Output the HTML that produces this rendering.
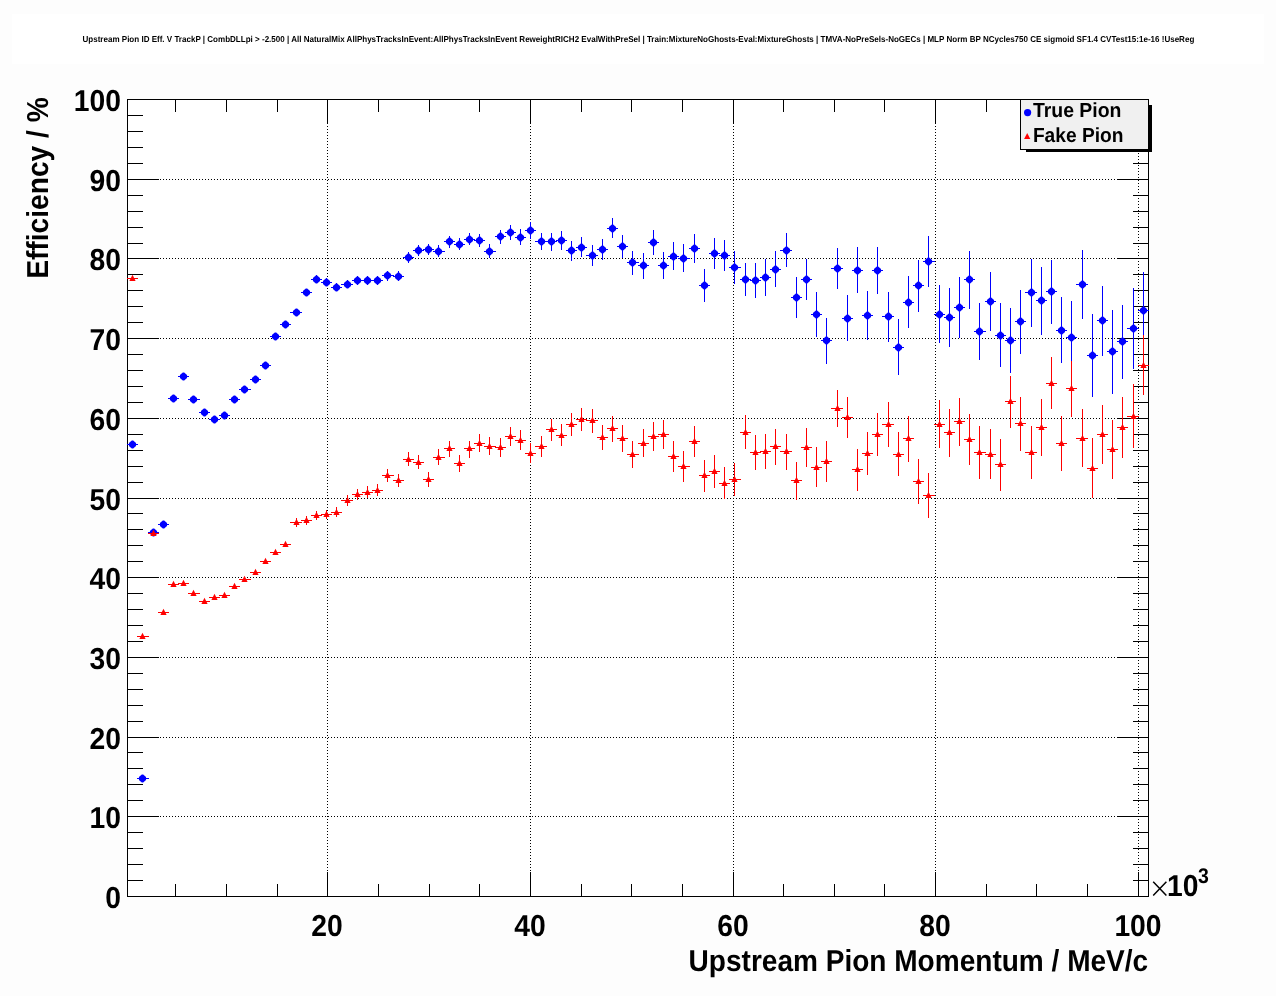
<!DOCTYPE html>
<html><head><meta charset="utf-8"><title>Upstream Pion ID Eff. V TrackP</title>
<style>html,body{margin:0;padding:0;background:#fdfdfd;}body{width:1276px;height:996px;overflow:hidden;}svg{display:block;will-change:transform;}text{font-family:"Liberation Sans", sans-serif;font-weight:bold;fill:#000;text-rendering:geometricPrecision;}</style>
</head><body>
<svg width="1276" height="996" viewBox="0 0 1276 996">
<rect x="0" y="0" width="1276" height="996" fill="#fdfdfd"/>
<rect x="127" y="99" width="1022" height="798" fill="#ffffff"/>
<rect x="12" y="14" width="1252" height="50" fill="#ffffff"/>
<text x="82.5" y="42" font-size="8.6" textLength="1111.8" lengthAdjust="spacingAndGlyphs">Upstream Pion ID Eff. V TrackP | CombDLLpi &gt; -2.500 | All NaturalMix AllPhysTracksInEvent:AllPhysTracksInEvent ReweightRICH2 EvalWithPreSel | Train:MixtureNoGhosts-Eval:MixtureGhosts | TMVA-NoPreSels-NoGECs | MLP Norm BP NCycles750 CE sigmoid SF1.4 CVTest15:1e-16 !UseReg</text>
<g shape-rendering="crispEdges" stroke="#000" stroke-width="1" fill="none">
<g stroke-dasharray="1 2">
<line x1="127" y1="816.5" x2="1149" y2="816.5"/>
<line x1="127" y1="737.5" x2="1149" y2="737.5"/>
<line x1="127" y1="657.5" x2="1149" y2="657.5"/>
<line x1="127" y1="577.5" x2="1149" y2="577.5"/>
<line x1="127" y1="498.5" x2="1149" y2="498.5"/>
<line x1="127" y1="418.5" x2="1149" y2="418.5"/>
<line x1="127" y1="338.5" x2="1149" y2="338.5"/>
<line x1="127" y1="258.5" x2="1149" y2="258.5"/>
<line x1="127" y1="179.5" x2="1149" y2="179.5"/>
<line x1="327.5" y1="99" x2="327.5" y2="897"/>
<line x1="530.5" y1="99" x2="530.5" y2="897"/>
<line x1="733.5" y1="99" x2="733.5" y2="897"/>
<line x1="935.5" y1="99" x2="935.5" y2="897"/>
<line x1="1138.5" y1="99" x2="1138.5" y2="897"/>
</g>
<rect x="127.5" y="99.5" width="1021" height="797"/>
<line x1="128" y1="896.5" x2="159" y2="896.5"/>
<line x1="1117" y1="896.5" x2="1148" y2="896.5"/>
<line x1="128" y1="880.5" x2="143" y2="880.5"/>
<line x1="1133" y1="880.5" x2="1148" y2="880.5"/>
<line x1="128" y1="864.5" x2="143" y2="864.5"/>
<line x1="1133" y1="864.5" x2="1148" y2="864.5"/>
<line x1="128" y1="848.5" x2="143" y2="848.5"/>
<line x1="1133" y1="848.5" x2="1148" y2="848.5"/>
<line x1="128" y1="832.5" x2="143" y2="832.5"/>
<line x1="1133" y1="832.5" x2="1148" y2="832.5"/>
<line x1="128" y1="816.5" x2="159" y2="816.5"/>
<line x1="1117" y1="816.5" x2="1148" y2="816.5"/>
<line x1="128" y1="800.5" x2="143" y2="800.5"/>
<line x1="1133" y1="800.5" x2="1148" y2="800.5"/>
<line x1="128" y1="784.5" x2="143" y2="784.5"/>
<line x1="1133" y1="784.5" x2="1148" y2="784.5"/>
<line x1="128" y1="768.5" x2="143" y2="768.5"/>
<line x1="1133" y1="768.5" x2="1148" y2="768.5"/>
<line x1="128" y1="752.5" x2="143" y2="752.5"/>
<line x1="1133" y1="752.5" x2="1148" y2="752.5"/>
<line x1="128" y1="737.5" x2="159" y2="737.5"/>
<line x1="1117" y1="737.5" x2="1148" y2="737.5"/>
<line x1="128" y1="721.5" x2="143" y2="721.5"/>
<line x1="1133" y1="721.5" x2="1148" y2="721.5"/>
<line x1="128" y1="705.5" x2="143" y2="705.5"/>
<line x1="1133" y1="705.5" x2="1148" y2="705.5"/>
<line x1="128" y1="689.5" x2="143" y2="689.5"/>
<line x1="1133" y1="689.5" x2="1148" y2="689.5"/>
<line x1="128" y1="673.5" x2="143" y2="673.5"/>
<line x1="1133" y1="673.5" x2="1148" y2="673.5"/>
<line x1="128" y1="657.5" x2="159" y2="657.5"/>
<line x1="1117" y1="657.5" x2="1148" y2="657.5"/>
<line x1="128" y1="641.5" x2="143" y2="641.5"/>
<line x1="1133" y1="641.5" x2="1148" y2="641.5"/>
<line x1="128" y1="625.5" x2="143" y2="625.5"/>
<line x1="1133" y1="625.5" x2="1148" y2="625.5"/>
<line x1="128" y1="609.5" x2="143" y2="609.5"/>
<line x1="1133" y1="609.5" x2="1148" y2="609.5"/>
<line x1="128" y1="593.5" x2="143" y2="593.5"/>
<line x1="1133" y1="593.5" x2="1148" y2="593.5"/>
<line x1="128" y1="577.5" x2="159" y2="577.5"/>
<line x1="1117" y1="577.5" x2="1148" y2="577.5"/>
<line x1="128" y1="561.5" x2="143" y2="561.5"/>
<line x1="1133" y1="561.5" x2="1148" y2="561.5"/>
<line x1="128" y1="545.5" x2="143" y2="545.5"/>
<line x1="1133" y1="545.5" x2="1148" y2="545.5"/>
<line x1="128" y1="529.5" x2="143" y2="529.5"/>
<line x1="1133" y1="529.5" x2="1148" y2="529.5"/>
<line x1="128" y1="513.5" x2="143" y2="513.5"/>
<line x1="1133" y1="513.5" x2="1148" y2="513.5"/>
<line x1="128" y1="498.5" x2="159" y2="498.5"/>
<line x1="1117" y1="498.5" x2="1148" y2="498.5"/>
<line x1="128" y1="482.5" x2="143" y2="482.5"/>
<line x1="1133" y1="482.5" x2="1148" y2="482.5"/>
<line x1="128" y1="466.5" x2="143" y2="466.5"/>
<line x1="1133" y1="466.5" x2="1148" y2="466.5"/>
<line x1="128" y1="450.5" x2="143" y2="450.5"/>
<line x1="1133" y1="450.5" x2="1148" y2="450.5"/>
<line x1="128" y1="434.5" x2="143" y2="434.5"/>
<line x1="1133" y1="434.5" x2="1148" y2="434.5"/>
<line x1="128" y1="418.5" x2="159" y2="418.5"/>
<line x1="1117" y1="418.5" x2="1148" y2="418.5"/>
<line x1="128" y1="402.5" x2="143" y2="402.5"/>
<line x1="1133" y1="402.5" x2="1148" y2="402.5"/>
<line x1="128" y1="386.5" x2="143" y2="386.5"/>
<line x1="1133" y1="386.5" x2="1148" y2="386.5"/>
<line x1="128" y1="370.5" x2="143" y2="370.5"/>
<line x1="1133" y1="370.5" x2="1148" y2="370.5"/>
<line x1="128" y1="354.5" x2="143" y2="354.5"/>
<line x1="1133" y1="354.5" x2="1148" y2="354.5"/>
<line x1="128" y1="338.5" x2="159" y2="338.5"/>
<line x1="1117" y1="338.5" x2="1148" y2="338.5"/>
<line x1="128" y1="322.5" x2="143" y2="322.5"/>
<line x1="1133" y1="322.5" x2="1148" y2="322.5"/>
<line x1="128" y1="306.5" x2="143" y2="306.5"/>
<line x1="1133" y1="306.5" x2="1148" y2="306.5"/>
<line x1="128" y1="290.5" x2="143" y2="290.5"/>
<line x1="1133" y1="290.5" x2="1148" y2="290.5"/>
<line x1="128" y1="274.5" x2="143" y2="274.5"/>
<line x1="1133" y1="274.5" x2="1148" y2="274.5"/>
<line x1="128" y1="258.5" x2="159" y2="258.5"/>
<line x1="1117" y1="258.5" x2="1148" y2="258.5"/>
<line x1="128" y1="243.5" x2="143" y2="243.5"/>
<line x1="1133" y1="243.5" x2="1148" y2="243.5"/>
<line x1="128" y1="227.5" x2="143" y2="227.5"/>
<line x1="1133" y1="227.5" x2="1148" y2="227.5"/>
<line x1="128" y1="211.5" x2="143" y2="211.5"/>
<line x1="1133" y1="211.5" x2="1148" y2="211.5"/>
<line x1="128" y1="195.5" x2="143" y2="195.5"/>
<line x1="1133" y1="195.5" x2="1148" y2="195.5"/>
<line x1="128" y1="179.5" x2="159" y2="179.5"/>
<line x1="1117" y1="179.5" x2="1148" y2="179.5"/>
<line x1="128" y1="163.5" x2="143" y2="163.5"/>
<line x1="1133" y1="163.5" x2="1148" y2="163.5"/>
<line x1="128" y1="147.5" x2="143" y2="147.5"/>
<line x1="1133" y1="147.5" x2="1148" y2="147.5"/>
<line x1="128" y1="131.5" x2="143" y2="131.5"/>
<line x1="1133" y1="131.5" x2="1148" y2="131.5"/>
<line x1="128" y1="115.5" x2="143" y2="115.5"/>
<line x1="1133" y1="115.5" x2="1148" y2="115.5"/>
<line x1="128" y1="99.5" x2="159" y2="99.5"/>
<line x1="1117" y1="99.5" x2="1148" y2="99.5"/>
<line x1="175.5" y1="884" x2="175.5" y2="896"/>
<line x1="175.5" y1="100" x2="175.5" y2="112"/>
<line x1="226.5" y1="884" x2="226.5" y2="896"/>
<line x1="226.5" y1="100" x2="226.5" y2="112"/>
<line x1="277.5" y1="884" x2="277.5" y2="896"/>
<line x1="277.5" y1="100" x2="277.5" y2="112"/>
<line x1="327.5" y1="872" x2="327.5" y2="896"/>
<line x1="327.5" y1="100" x2="327.5" y2="124"/>
<line x1="378.5" y1="884" x2="378.5" y2="896"/>
<line x1="378.5" y1="100" x2="378.5" y2="112"/>
<line x1="429.5" y1="884" x2="429.5" y2="896"/>
<line x1="429.5" y1="100" x2="429.5" y2="112"/>
<line x1="479.5" y1="884" x2="479.5" y2="896"/>
<line x1="479.5" y1="100" x2="479.5" y2="112"/>
<line x1="530.5" y1="872" x2="530.5" y2="896"/>
<line x1="530.5" y1="100" x2="530.5" y2="124"/>
<line x1="581.5" y1="884" x2="581.5" y2="896"/>
<line x1="581.5" y1="100" x2="581.5" y2="112"/>
<line x1="631.5" y1="884" x2="631.5" y2="896"/>
<line x1="631.5" y1="100" x2="631.5" y2="112"/>
<line x1="682.5" y1="884" x2="682.5" y2="896"/>
<line x1="682.5" y1="100" x2="682.5" y2="112"/>
<line x1="733.5" y1="872" x2="733.5" y2="896"/>
<line x1="733.5" y1="100" x2="733.5" y2="124"/>
<line x1="783.5" y1="884" x2="783.5" y2="896"/>
<line x1="783.5" y1="100" x2="783.5" y2="112"/>
<line x1="834.5" y1="884" x2="834.5" y2="896"/>
<line x1="834.5" y1="100" x2="834.5" y2="112"/>
<line x1="884.5" y1="884" x2="884.5" y2="896"/>
<line x1="884.5" y1="100" x2="884.5" y2="112"/>
<line x1="935.5" y1="872" x2="935.5" y2="896"/>
<line x1="935.5" y1="100" x2="935.5" y2="124"/>
<line x1="986.5" y1="884" x2="986.5" y2="896"/>
<line x1="986.5" y1="100" x2="986.5" y2="112"/>
<line x1="1036.5" y1="884" x2="1036.5" y2="896"/>
<line x1="1036.5" y1="100" x2="1036.5" y2="112"/>
<line x1="1087.5" y1="884" x2="1087.5" y2="896"/>
<line x1="1087.5" y1="100" x2="1087.5" y2="112"/>
<line x1="1138.5" y1="872" x2="1138.5" y2="896"/>
<line x1="1138.5" y1="100" x2="1138.5" y2="124"/>
</g>
<text transform="translate(120.90,907.50) scale(0.9340,1.0000)" font-size="30.30" text-anchor="end">0</text>
<text transform="translate(120.90,827.50) scale(0.9340,1.0000)" font-size="30.30" text-anchor="end">10</text>
<text transform="translate(120.90,748.50) scale(0.9340,1.0000)" font-size="30.30" text-anchor="end">20</text>
<text transform="translate(120.90,668.50) scale(0.9340,1.0000)" font-size="30.30" text-anchor="end">30</text>
<text transform="translate(120.90,588.50) scale(0.9340,1.0000)" font-size="30.30" text-anchor="end">40</text>
<text transform="translate(120.90,509.50) scale(0.9340,1.0000)" font-size="30.30" text-anchor="end">50</text>
<text transform="translate(120.90,429.50) scale(0.9340,1.0000)" font-size="30.30" text-anchor="end">60</text>
<text transform="translate(120.90,349.50) scale(0.9340,1.0000)" font-size="30.30" text-anchor="end">70</text>
<text transform="translate(120.90,269.50) scale(0.9340,1.0000)" font-size="30.30" text-anchor="end">80</text>
<text transform="translate(120.90,190.50) scale(0.9340,1.0000)" font-size="30.30" text-anchor="end">90</text>
<text transform="translate(120.90,110.50) scale(0.9340,1.0000)" font-size="30.30" text-anchor="end">100</text>
<text transform="translate(327.00,935.70) scale(0.9340,1.0000)" font-size="30.30" text-anchor="middle">20</text>
<text transform="translate(530.00,935.70) scale(0.9340,1.0000)" font-size="30.30" text-anchor="middle">40</text>
<text transform="translate(733.00,935.70) scale(0.9340,1.0000)" font-size="30.30" text-anchor="middle">60</text>
<text transform="translate(935.00,935.70) scale(0.9340,1.0000)" font-size="30.30" text-anchor="middle">80</text>
<text transform="translate(1138.00,935.70) scale(0.9340,1.0000)" font-size="30.30" text-anchor="middle">100</text>
<text transform="translate(1148.20,971.00) scale(0.9255,1.0000)" font-size="30.30" text-anchor="end">Upstream Pion Momentum / MeV/c</text>
<text transform="translate(48.10,97.20) rotate(-90) scale(0.9300,1.0000)" font-size="30.30" text-anchor="end">Efficiency / %</text>
<path d="M1153.2 881.8 L1166.4 895.4 M1166.4 881.8 L1153.2 895.4" stroke="#000" stroke-width="1.5" fill="none"/>
<text transform="translate(1167.00,896.40) scale(0.9340,1.0000)" font-size="30.30" text-anchor="start">10</text>
<text transform="translate(1198.00,882.90) scale(0.9200,1.0000)" font-size="21.20" text-anchor="start">3</text>
<g stroke="#0000ff" fill="#0000ff" stroke-width="1" shape-rendering="crispEdges">
<line x1="127" y1="444.5" x2="138" y2="444.5"/>
<line x1="137" y1="778.5" x2="149" y2="778.5"/>
<line x1="148" y1="532.5" x2="159" y2="532.5"/>
<line x1="158" y1="524.5" x2="169" y2="524.5"/>
<line x1="168" y1="398.5" x2="179" y2="398.5"/>
<line x1="178" y1="376.5" x2="189" y2="376.5"/>
<line x1="188" y1="399.5" x2="200" y2="399.5"/>
<line x1="199" y1="412.5" x2="210" y2="412.5"/>
<line x1="209" y1="419.5" x2="220" y2="419.5"/>
<line x1="219" y1="415.5" x2="230" y2="415.5"/>
<line x1="229" y1="399.5" x2="240" y2="399.5"/>
<line x1="239" y1="389.5" x2="251" y2="389.5"/>
<line x1="250" y1="379.5" x2="261" y2="379.5"/>
<line x1="260" y1="365.5" x2="271" y2="365.5"/>
<line x1="270" y1="336.5" x2="281" y2="336.5"/>
<line x1="280" y1="324.5" x2="291" y2="324.5"/>
<line x1="290" y1="312.5" x2="302" y2="312.5"/>
<line x1="301" y1="292.5" x2="312" y2="292.5"/>
<line x1="311" y1="279.5" x2="322" y2="279.5"/>
<line x1="316.5" y1="275" x2="316.5" y2="283"/>
<line x1="321" y1="282.5" x2="332" y2="282.5"/>
<line x1="326.5" y1="278" x2="326.5" y2="286"/>
<line x1="331" y1="287.5" x2="342" y2="287.5"/>
<line x1="336.5" y1="283" x2="336.5" y2="291"/>
<line x1="341" y1="284.5" x2="353" y2="284.5"/>
<line x1="347.5" y1="280" x2="347.5" y2="288"/>
<line x1="352" y1="280.5" x2="363" y2="280.5"/>
<line x1="357.5" y1="276" x2="357.5" y2="285"/>
<line x1="362" y1="280.5" x2="373" y2="280.5"/>
<line x1="367.5" y1="276" x2="367.5" y2="285"/>
<line x1="372" y1="280.5" x2="383" y2="280.5"/>
<line x1="377.5" y1="276" x2="377.5" y2="285"/>
<line x1="382" y1="275.5" x2="394" y2="275.5"/>
<line x1="387.5" y1="271" x2="387.5" y2="281"/>
<line x1="393" y1="276.5" x2="404" y2="276.5"/>
<line x1="398.5" y1="271" x2="398.5" y2="281"/>
<line x1="403" y1="257.5" x2="414" y2="257.5"/>
<line x1="408.5" y1="252" x2="408.5" y2="263"/>
<line x1="413" y1="250.5" x2="424" y2="250.5"/>
<line x1="418.5" y1="245" x2="418.5" y2="256"/>
<line x1="423" y1="249.5" x2="434" y2="249.5"/>
<line x1="428.5" y1="244" x2="428.5" y2="255"/>
<line x1="433" y1="251.5" x2="445" y2="251.5"/>
<line x1="438.5" y1="245" x2="438.5" y2="257"/>
<line x1="444" y1="241.5" x2="455" y2="241.5"/>
<line x1="449.5" y1="236" x2="449.5" y2="248"/>
<line x1="454" y1="244.5" x2="465" y2="244.5"/>
<line x1="459.5" y1="238" x2="459.5" y2="250"/>
<line x1="464" y1="239.5" x2="475" y2="239.5"/>
<line x1="469.5" y1="233" x2="469.5" y2="245"/>
<line x1="474" y1="240.5" x2="485" y2="240.5"/>
<line x1="479.5" y1="234" x2="479.5" y2="247"/>
<line x1="484" y1="251.5" x2="496" y2="251.5"/>
<line x1="489.5" y1="244" x2="489.5" y2="258"/>
<line x1="495" y1="236.5" x2="506" y2="236.5"/>
<line x1="500.5" y1="230" x2="500.5" y2="244"/>
<line x1="505" y1="232.5" x2="516" y2="232.5"/>
<line x1="510.5" y1="225" x2="510.5" y2="240"/>
<line x1="515" y1="237.5" x2="526" y2="237.5"/>
<line x1="520.5" y1="229" x2="520.5" y2="245"/>
<line x1="525" y1="230.5" x2="536" y2="230.5"/>
<line x1="530.5" y1="222" x2="530.5" y2="239"/>
<line x1="535" y1="241.5" x2="547" y2="241.5"/>
<line x1="541.5" y1="233" x2="541.5" y2="250"/>
<line x1="546" y1="241.5" x2="557" y2="241.5"/>
<line x1="551.5" y1="233" x2="551.5" y2="251"/>
<line x1="556" y1="240.5" x2="567" y2="240.5"/>
<line x1="561.5" y1="231" x2="561.5" y2="250"/>
<line x1="566" y1="250.5" x2="577" y2="250.5"/>
<line x1="571.5" y1="241" x2="571.5" y2="261"/>
<line x1="576" y1="247.5" x2="587" y2="247.5"/>
<line x1="581.5" y1="237" x2="581.5" y2="257"/>
<line x1="586" y1="255.5" x2="598" y2="255.5"/>
<line x1="592.5" y1="245" x2="592.5" y2="266"/>
<line x1="597" y1="249.5" x2="608" y2="249.5"/>
<line x1="602.5" y1="239" x2="602.5" y2="260"/>
<line x1="607" y1="228.5" x2="618" y2="228.5"/>
<line x1="612.5" y1="218" x2="612.5" y2="238"/>
<line x1="617" y1="246.5" x2="628" y2="246.5"/>
<line x1="622.5" y1="235" x2="622.5" y2="258"/>
<line x1="627" y1="262.5" x2="639" y2="262.5"/>
<line x1="632.5" y1="251" x2="632.5" y2="275"/>
<line x1="638" y1="265.5" x2="649" y2="265.5"/>
<line x1="643.5" y1="253" x2="643.5" y2="279"/>
<line x1="648" y1="242.5" x2="659" y2="242.5"/>
<line x1="653.5" y1="230" x2="653.5" y2="255"/>
<line x1="658" y1="265.5" x2="669" y2="265.5"/>
<line x1="663.5" y1="252" x2="663.5" y2="279"/>
<line x1="668" y1="256.5" x2="679" y2="256.5"/>
<line x1="673.5" y1="242" x2="673.5" y2="270"/>
<line x1="678" y1="258.5" x2="690" y2="258.5"/>
<line x1="683.5" y1="244" x2="683.5" y2="272"/>
<line x1="689" y1="248.5" x2="700" y2="248.5"/>
<line x1="694.5" y1="234" x2="694.5" y2="263"/>
<line x1="699" y1="285.5" x2="710" y2="285.5"/>
<line x1="704.5" y1="269" x2="704.5" y2="302"/>
<line x1="709" y1="253.5" x2="720" y2="253.5"/>
<line x1="714.5" y1="238" x2="714.5" y2="269"/>
<line x1="719" y1="255.5" x2="730" y2="255.5"/>
<line x1="724.5" y1="240" x2="724.5" y2="271"/>
<line x1="729" y1="267.5" x2="741" y2="267.5"/>
<line x1="734.5" y1="251" x2="734.5" y2="284"/>
<line x1="740" y1="279.5" x2="751" y2="279.5"/>
<line x1="745.5" y1="263" x2="745.5" y2="296"/>
<line x1="750" y1="280.5" x2="761" y2="280.5"/>
<line x1="755.5" y1="263" x2="755.5" y2="298"/>
<line x1="760" y1="277.5" x2="771" y2="277.5"/>
<line x1="765.5" y1="259" x2="765.5" y2="296"/>
<line x1="770" y1="269.5" x2="781" y2="269.5"/>
<line x1="775.5" y1="251" x2="775.5" y2="287"/>
<line x1="780" y1="250.5" x2="792" y2="250.5"/>
<line x1="786.5" y1="233" x2="786.5" y2="267"/>
<line x1="791" y1="297.5" x2="802" y2="297.5"/>
<line x1="796.5" y1="277" x2="796.5" y2="318"/>
<line x1="801" y1="279.5" x2="812" y2="279.5"/>
<line x1="806.5" y1="259" x2="806.5" y2="300"/>
<line x1="811" y1="314.5" x2="822" y2="314.5"/>
<line x1="816.5" y1="292" x2="816.5" y2="337"/>
<line x1="821" y1="340.5" x2="832" y2="340.5"/>
<line x1="826.5" y1="318" x2="826.5" y2="364"/>
<line x1="831" y1="268.5" x2="843" y2="268.5"/>
<line x1="837.5" y1="248" x2="837.5" y2="289"/>
<line x1="842" y1="318.5" x2="853" y2="318.5"/>
<line x1="847.5" y1="295" x2="847.5" y2="341"/>
<line x1="852" y1="270.5" x2="863" y2="270.5"/>
<line x1="857.5" y1="247" x2="857.5" y2="293"/>
<line x1="862" y1="315.5" x2="873" y2="315.5"/>
<line x1="867.5" y1="291" x2="867.5" y2="340"/>
<line x1="872" y1="270.5" x2="883" y2="270.5"/>
<line x1="877.5" y1="247" x2="877.5" y2="294"/>
<line x1="882" y1="316.5" x2="894" y2="316.5"/>
<line x1="888.5" y1="292" x2="888.5" y2="342"/>
<line x1="893" y1="347.5" x2="904" y2="347.5"/>
<line x1="898.5" y1="319" x2="898.5" y2="375"/>
<line x1="903" y1="302.5" x2="914" y2="302.5"/>
<line x1="908.5" y1="276" x2="908.5" y2="328"/>
<line x1="913" y1="285.5" x2="924" y2="285.5"/>
<line x1="918.5" y1="260" x2="918.5" y2="312"/>
<line x1="923" y1="261.5" x2="935" y2="261.5"/>
<line x1="928.5" y1="236" x2="928.5" y2="287"/>
<line x1="934" y1="314.5" x2="945" y2="314.5"/>
<line x1="939.5" y1="285" x2="939.5" y2="343"/>
<line x1="944" y1="317.5" x2="955" y2="317.5"/>
<line x1="949.5" y1="288" x2="949.5" y2="347"/>
<line x1="954" y1="307.5" x2="965" y2="307.5"/>
<line x1="959.5" y1="277" x2="959.5" y2="338"/>
<line x1="964" y1="279.5" x2="975" y2="279.5"/>
<line x1="969.5" y1="251" x2="969.5" y2="309"/>
<line x1="974" y1="331.5" x2="986" y2="331.5"/>
<line x1="979.5" y1="303" x2="979.5" y2="360"/>
<line x1="985" y1="301.5" x2="996" y2="301.5"/>
<line x1="990.5" y1="272" x2="990.5" y2="331"/>
<line x1="995" y1="335.5" x2="1006" y2="335.5"/>
<line x1="1000.5" y1="303" x2="1000.5" y2="367"/>
<line x1="1005" y1="340.5" x2="1016" y2="340.5"/>
<line x1="1010.5" y1="308" x2="1010.5" y2="373"/>
<line x1="1015" y1="321.5" x2="1026" y2="321.5"/>
<line x1="1020.5" y1="290" x2="1020.5" y2="354"/>
<line x1="1025" y1="292.5" x2="1037" y2="292.5"/>
<line x1="1031.5" y1="259" x2="1031.5" y2="327"/>
<line x1="1036" y1="300.5" x2="1047" y2="300.5"/>
<line x1="1041.5" y1="267" x2="1041.5" y2="335"/>
<line x1="1046" y1="291.5" x2="1057" y2="291.5"/>
<line x1="1051.5" y1="260" x2="1051.5" y2="324"/>
<line x1="1056" y1="330.5" x2="1067" y2="330.5"/>
<line x1="1061.5" y1="297" x2="1061.5" y2="363"/>
<line x1="1066" y1="337.5" x2="1077" y2="337.5"/>
<line x1="1071.5" y1="301" x2="1071.5" y2="373"/>
<line x1="1076" y1="284.5" x2="1088" y2="284.5"/>
<line x1="1082.5" y1="250" x2="1082.5" y2="319"/>
<line x1="1087" y1="355.5" x2="1098" y2="355.5"/>
<line x1="1092.5" y1="314" x2="1092.5" y2="397"/>
<line x1="1097" y1="320.5" x2="1108" y2="320.5"/>
<line x1="1102.5" y1="286" x2="1102.5" y2="356"/>
<line x1="1107" y1="351.5" x2="1118" y2="351.5"/>
<line x1="1112.5" y1="310" x2="1112.5" y2="394"/>
<line x1="1117" y1="341.5" x2="1128" y2="341.5"/>
<line x1="1122.5" y1="305" x2="1122.5" y2="379"/>
<line x1="1127" y1="328.5" x2="1139" y2="328.5"/>
<line x1="1133.5" y1="288" x2="1133.5" y2="369"/>
<line x1="1138" y1="310.5" x2="1149" y2="310.5"/>
<line x1="1143.5" y1="272" x2="1143.5" y2="348"/>
</g>
<g fill="#0000ff" stroke="none">
<path d="M131.8 440.55h1.4l2.85 2.35v3.2l-2.85 2.35h-1.4l-2.85 -2.35v-3.2z"/>
<path d="M141.8 774.55h1.4l2.85 2.35v3.2l-2.85 2.35h-1.4l-2.85 -2.35v-3.2z"/>
<path d="M152.8 528.55h1.4l2.85 2.35v3.2l-2.85 2.35h-1.4l-2.85 -2.35v-3.2z"/>
<path d="M162.8 520.55h1.4l2.85 2.35v3.2l-2.85 2.35h-1.4l-2.85 -2.35v-3.2z"/>
<path d="M172.8 394.55h1.4l2.85 2.35v3.2l-2.85 2.35h-1.4l-2.85 -2.35v-3.2z"/>
<path d="M182.8 372.55h1.4l2.85 2.35v3.2l-2.85 2.35h-1.4l-2.85 -2.35v-3.2z"/>
<path d="M192.8 395.55h1.4l2.85 2.35v3.2l-2.85 2.35h-1.4l-2.85 -2.35v-3.2z"/>
<path d="M203.8 408.55h1.4l2.85 2.35v3.2l-2.85 2.35h-1.4l-2.85 -2.35v-3.2z"/>
<path d="M213.8 415.55h1.4l2.85 2.35v3.2l-2.85 2.35h-1.4l-2.85 -2.35v-3.2z"/>
<path d="M223.8 411.55h1.4l2.85 2.35v3.2l-2.85 2.35h-1.4l-2.85 -2.35v-3.2z"/>
<path d="M233.8 395.55h1.4l2.85 2.35v3.2l-2.85 2.35h-1.4l-2.85 -2.35v-3.2z"/>
<path d="M243.8 385.55h1.4l2.85 2.35v3.2l-2.85 2.35h-1.4l-2.85 -2.35v-3.2z"/>
<path d="M254.8 375.55h1.4l2.85 2.35v3.2l-2.85 2.35h-1.4l-2.85 -2.35v-3.2z"/>
<path d="M264.8 361.55h1.4l2.85 2.35v3.2l-2.85 2.35h-1.4l-2.85 -2.35v-3.2z"/>
<path d="M274.8 332.55h1.4l2.85 2.35v3.2l-2.85 2.35h-1.4l-2.85 -2.35v-3.2z"/>
<path d="M284.8 320.55h1.4l2.85 2.35v3.2l-2.85 2.35h-1.4l-2.85 -2.35v-3.2z"/>
<path d="M295.8 308.55h1.4l2.85 2.35v3.2l-2.85 2.35h-1.4l-2.85 -2.35v-3.2z"/>
<path d="M305.8 288.55h1.4l2.85 2.35v3.2l-2.85 2.35h-1.4l-2.85 -2.35v-3.2z"/>
<path d="M315.8 275.55h1.4l2.85 2.35v3.2l-2.85 2.35h-1.4l-2.85 -2.35v-3.2z"/>
<path d="M325.8 278.55h1.4l2.85 2.35v3.2l-2.85 2.35h-1.4l-2.85 -2.35v-3.2z"/>
<path d="M335.8 283.55h1.4l2.85 2.35v3.2l-2.85 2.35h-1.4l-2.85 -2.35v-3.2z"/>
<path d="M346.8 280.55h1.4l2.85 2.35v3.2l-2.85 2.35h-1.4l-2.85 -2.35v-3.2z"/>
<path d="M356.8 276.55h1.4l2.85 2.35v3.2l-2.85 2.35h-1.4l-2.85 -2.35v-3.2z"/>
<path d="M366.8 276.55h1.4l2.85 2.35v3.2l-2.85 2.35h-1.4l-2.85 -2.35v-3.2z"/>
<path d="M376.8 276.55h1.4l2.85 2.35v3.2l-2.85 2.35h-1.4l-2.85 -2.35v-3.2z"/>
<path d="M386.8 271.55h1.4l2.85 2.35v3.2l-2.85 2.35h-1.4l-2.85 -2.35v-3.2z"/>
<path d="M397.8 272.55h1.4l2.85 2.35v3.2l-2.85 2.35h-1.4l-2.85 -2.35v-3.2z"/>
<path d="M407.8 253.55h1.4l2.85 2.35v3.2l-2.85 2.35h-1.4l-2.85 -2.35v-3.2z"/>
<path d="M417.8 246.55h1.4l2.85 2.35v3.2l-2.85 2.35h-1.4l-2.85 -2.35v-3.2z"/>
<path d="M427.8 245.55h1.4l2.85 2.35v3.2l-2.85 2.35h-1.4l-2.85 -2.35v-3.2z"/>
<path d="M437.8 247.55h1.4l2.85 2.35v3.2l-2.85 2.35h-1.4l-2.85 -2.35v-3.2z"/>
<path d="M448.8 237.55h1.4l2.85 2.35v3.2l-2.85 2.35h-1.4l-2.85 -2.35v-3.2z"/>
<path d="M458.8 240.55h1.4l2.85 2.35v3.2l-2.85 2.35h-1.4l-2.85 -2.35v-3.2z"/>
<path d="M468.8 235.55h1.4l2.85 2.35v3.2l-2.85 2.35h-1.4l-2.85 -2.35v-3.2z"/>
<path d="M478.8 236.55h1.4l2.85 2.35v3.2l-2.85 2.35h-1.4l-2.85 -2.35v-3.2z"/>
<path d="M488.8 247.55h1.4l2.85 2.35v3.2l-2.85 2.35h-1.4l-2.85 -2.35v-3.2z"/>
<path d="M499.8 232.55h1.4l2.85 2.35v3.2l-2.85 2.35h-1.4l-2.85 -2.35v-3.2z"/>
<path d="M509.8 228.55h1.4l2.85 2.35v3.2l-2.85 2.35h-1.4l-2.85 -2.35v-3.2z"/>
<path d="M519.8 233.55h1.4l2.85 2.35v3.2l-2.85 2.35h-1.4l-2.85 -2.35v-3.2z"/>
<path d="M529.8 226.55h1.4l2.85 2.35v3.2l-2.85 2.35h-1.4l-2.85 -2.35v-3.2z"/>
<path d="M540.8 237.55h1.4l2.85 2.35v3.2l-2.85 2.35h-1.4l-2.85 -2.35v-3.2z"/>
<path d="M550.8 237.55h1.4l2.85 2.35v3.2l-2.85 2.35h-1.4l-2.85 -2.35v-3.2z"/>
<path d="M560.8 236.55h1.4l2.85 2.35v3.2l-2.85 2.35h-1.4l-2.85 -2.35v-3.2z"/>
<path d="M570.8 246.55h1.4l2.85 2.35v3.2l-2.85 2.35h-1.4l-2.85 -2.35v-3.2z"/>
<path d="M580.8 243.55h1.4l2.85 2.35v3.2l-2.85 2.35h-1.4l-2.85 -2.35v-3.2z"/>
<path d="M591.8 251.55h1.4l2.85 2.35v3.2l-2.85 2.35h-1.4l-2.85 -2.35v-3.2z"/>
<path d="M601.8 245.55h1.4l2.85 2.35v3.2l-2.85 2.35h-1.4l-2.85 -2.35v-3.2z"/>
<path d="M611.8 224.55h1.4l2.85 2.35v3.2l-2.85 2.35h-1.4l-2.85 -2.35v-3.2z"/>
<path d="M621.8 242.55h1.4l2.85 2.35v3.2l-2.85 2.35h-1.4l-2.85 -2.35v-3.2z"/>
<path d="M631.8 258.55h1.4l2.85 2.35v3.2l-2.85 2.35h-1.4l-2.85 -2.35v-3.2z"/>
<path d="M642.8 261.55h1.4l2.85 2.35v3.2l-2.85 2.35h-1.4l-2.85 -2.35v-3.2z"/>
<path d="M652.8 238.55h1.4l2.85 2.35v3.2l-2.85 2.35h-1.4l-2.85 -2.35v-3.2z"/>
<path d="M662.8 261.55h1.4l2.85 2.35v3.2l-2.85 2.35h-1.4l-2.85 -2.35v-3.2z"/>
<path d="M672.8 252.55h1.4l2.85 2.35v3.2l-2.85 2.35h-1.4l-2.85 -2.35v-3.2z"/>
<path d="M682.8 254.55h1.4l2.85 2.35v3.2l-2.85 2.35h-1.4l-2.85 -2.35v-3.2z"/>
<path d="M693.8 244.55h1.4l2.85 2.35v3.2l-2.85 2.35h-1.4l-2.85 -2.35v-3.2z"/>
<path d="M703.8 281.55h1.4l2.85 2.35v3.2l-2.85 2.35h-1.4l-2.85 -2.35v-3.2z"/>
<path d="M713.8 249.55h1.4l2.85 2.35v3.2l-2.85 2.35h-1.4l-2.85 -2.35v-3.2z"/>
<path d="M723.8 251.55h1.4l2.85 2.35v3.2l-2.85 2.35h-1.4l-2.85 -2.35v-3.2z"/>
<path d="M733.8 263.55h1.4l2.85 2.35v3.2l-2.85 2.35h-1.4l-2.85 -2.35v-3.2z"/>
<path d="M744.8 275.55h1.4l2.85 2.35v3.2l-2.85 2.35h-1.4l-2.85 -2.35v-3.2z"/>
<path d="M754.8 276.55h1.4l2.85 2.35v3.2l-2.85 2.35h-1.4l-2.85 -2.35v-3.2z"/>
<path d="M764.8 273.55h1.4l2.85 2.35v3.2l-2.85 2.35h-1.4l-2.85 -2.35v-3.2z"/>
<path d="M774.8 265.55h1.4l2.85 2.35v3.2l-2.85 2.35h-1.4l-2.85 -2.35v-3.2z"/>
<path d="M785.8 246.55h1.4l2.85 2.35v3.2l-2.85 2.35h-1.4l-2.85 -2.35v-3.2z"/>
<path d="M795.8 293.55h1.4l2.85 2.35v3.2l-2.85 2.35h-1.4l-2.85 -2.35v-3.2z"/>
<path d="M805.8 275.55h1.4l2.85 2.35v3.2l-2.85 2.35h-1.4l-2.85 -2.35v-3.2z"/>
<path d="M815.8 310.55h1.4l2.85 2.35v3.2l-2.85 2.35h-1.4l-2.85 -2.35v-3.2z"/>
<path d="M825.8 336.55h1.4l2.85 2.35v3.2l-2.85 2.35h-1.4l-2.85 -2.35v-3.2z"/>
<path d="M836.8 264.55h1.4l2.85 2.35v3.2l-2.85 2.35h-1.4l-2.85 -2.35v-3.2z"/>
<path d="M846.8 314.55h1.4l2.85 2.35v3.2l-2.85 2.35h-1.4l-2.85 -2.35v-3.2z"/>
<path d="M856.8 266.55h1.4l2.85 2.35v3.2l-2.85 2.35h-1.4l-2.85 -2.35v-3.2z"/>
<path d="M866.8 311.55h1.4l2.85 2.35v3.2l-2.85 2.35h-1.4l-2.85 -2.35v-3.2z"/>
<path d="M876.8 266.55h1.4l2.85 2.35v3.2l-2.85 2.35h-1.4l-2.85 -2.35v-3.2z"/>
<path d="M887.8 312.55h1.4l2.85 2.35v3.2l-2.85 2.35h-1.4l-2.85 -2.35v-3.2z"/>
<path d="M897.8 343.55h1.4l2.85 2.35v3.2l-2.85 2.35h-1.4l-2.85 -2.35v-3.2z"/>
<path d="M907.8 298.55h1.4l2.85 2.35v3.2l-2.85 2.35h-1.4l-2.85 -2.35v-3.2z"/>
<path d="M917.8 281.55h1.4l2.85 2.35v3.2l-2.85 2.35h-1.4l-2.85 -2.35v-3.2z"/>
<path d="M927.8 257.55h1.4l2.85 2.35v3.2l-2.85 2.35h-1.4l-2.85 -2.35v-3.2z"/>
<path d="M938.8 310.55h1.4l2.85 2.35v3.2l-2.85 2.35h-1.4l-2.85 -2.35v-3.2z"/>
<path d="M948.8 313.55h1.4l2.85 2.35v3.2l-2.85 2.35h-1.4l-2.85 -2.35v-3.2z"/>
<path d="M958.8 303.55h1.4l2.85 2.35v3.2l-2.85 2.35h-1.4l-2.85 -2.35v-3.2z"/>
<path d="M968.8 275.55h1.4l2.85 2.35v3.2l-2.85 2.35h-1.4l-2.85 -2.35v-3.2z"/>
<path d="M978.8 327.55h1.4l2.85 2.35v3.2l-2.85 2.35h-1.4l-2.85 -2.35v-3.2z"/>
<path d="M989.8 297.55h1.4l2.85 2.35v3.2l-2.85 2.35h-1.4l-2.85 -2.35v-3.2z"/>
<path d="M999.8 331.55h1.4l2.85 2.35v3.2l-2.85 2.35h-1.4l-2.85 -2.35v-3.2z"/>
<path d="M1009.8 336.55h1.4l2.85 2.35v3.2l-2.85 2.35h-1.4l-2.85 -2.35v-3.2z"/>
<path d="M1019.8 317.55h1.4l2.85 2.35v3.2l-2.85 2.35h-1.4l-2.85 -2.35v-3.2z"/>
<path d="M1030.8 288.55h1.4l2.85 2.35v3.2l-2.85 2.35h-1.4l-2.85 -2.35v-3.2z"/>
<path d="M1040.8 296.55h1.4l2.85 2.35v3.2l-2.85 2.35h-1.4l-2.85 -2.35v-3.2z"/>
<path d="M1050.8 287.55h1.4l2.85 2.35v3.2l-2.85 2.35h-1.4l-2.85 -2.35v-3.2z"/>
<path d="M1060.8 326.55h1.4l2.85 2.35v3.2l-2.85 2.35h-1.4l-2.85 -2.35v-3.2z"/>
<path d="M1070.8 333.55h1.4l2.85 2.35v3.2l-2.85 2.35h-1.4l-2.85 -2.35v-3.2z"/>
<path d="M1081.8 280.55h1.4l2.85 2.35v3.2l-2.85 2.35h-1.4l-2.85 -2.35v-3.2z"/>
<path d="M1091.8 351.55h1.4l2.85 2.35v3.2l-2.85 2.35h-1.4l-2.85 -2.35v-3.2z"/>
<path d="M1101.8 316.55h1.4l2.85 2.35v3.2l-2.85 2.35h-1.4l-2.85 -2.35v-3.2z"/>
<path d="M1111.8 347.55h1.4l2.85 2.35v3.2l-2.85 2.35h-1.4l-2.85 -2.35v-3.2z"/>
<path d="M1121.8 337.55h1.4l2.85 2.35v3.2l-2.85 2.35h-1.4l-2.85 -2.35v-3.2z"/>
<path d="M1132.8 324.55h1.4l2.85 2.35v3.2l-2.85 2.35h-1.4l-2.85 -2.35v-3.2z"/>
<path d="M1142.8 306.55h1.4l2.85 2.35v3.2l-2.85 2.35h-1.4l-2.85 -2.35v-3.2z"/>
</g>
<g stroke="#ff0000" fill="#ff0000" stroke-width="1" shape-rendering="crispEdges">
<line x1="127" y1="278.5" x2="138" y2="278.5"/>
<line x1="137" y1="636.5" x2="149" y2="636.5"/>
<line x1="148" y1="533.5" x2="159" y2="533.5"/>
<line x1="158" y1="612.5" x2="169" y2="612.5"/>
<line x1="168" y1="584.5" x2="179" y2="584.5"/>
<line x1="178" y1="583.5" x2="189" y2="583.5"/>
<line x1="188" y1="593.5" x2="200" y2="593.5"/>
<line x1="199" y1="601.5" x2="210" y2="601.5"/>
<line x1="209" y1="597.5" x2="220" y2="597.5"/>
<line x1="219" y1="595.5" x2="230" y2="595.5"/>
<line x1="229" y1="586.5" x2="240" y2="586.5"/>
<line x1="239" y1="579.5" x2="251" y2="579.5"/>
<line x1="250" y1="572.5" x2="261" y2="572.5"/>
<line x1="260" y1="561.5" x2="271" y2="561.5"/>
<line x1="270" y1="552.5" x2="281" y2="552.5"/>
<line x1="280" y1="544.5" x2="291" y2="544.5"/>
<line x1="290" y1="522.5" x2="302" y2="522.5"/>
<line x1="296.5" y1="518" x2="296.5" y2="527"/>
<line x1="301" y1="520.5" x2="312" y2="520.5"/>
<line x1="306.5" y1="516" x2="306.5" y2="525"/>
<line x1="311" y1="515.5" x2="322" y2="515.5"/>
<line x1="316.5" y1="511" x2="316.5" y2="520"/>
<line x1="321" y1="514.5" x2="332" y2="514.5"/>
<line x1="326.5" y1="510" x2="326.5" y2="519"/>
<line x1="331" y1="512.5" x2="342" y2="512.5"/>
<line x1="336.5" y1="507" x2="336.5" y2="517"/>
<line x1="341" y1="500.5" x2="353" y2="500.5"/>
<line x1="347.5" y1="495" x2="347.5" y2="506"/>
<line x1="352" y1="494.5" x2="363" y2="494.5"/>
<line x1="357.5" y1="489" x2="357.5" y2="500"/>
<line x1="362" y1="492.5" x2="373" y2="492.5"/>
<line x1="367.5" y1="486" x2="367.5" y2="498"/>
<line x1="372" y1="490.5" x2="383" y2="490.5"/>
<line x1="377.5" y1="484" x2="377.5" y2="496"/>
<line x1="382" y1="475.5" x2="394" y2="475.5"/>
<line x1="387.5" y1="469" x2="387.5" y2="482"/>
<line x1="393" y1="480.5" x2="404" y2="480.5"/>
<line x1="398.5" y1="474" x2="398.5" y2="487"/>
<line x1="403" y1="459.5" x2="414" y2="459.5"/>
<line x1="408.5" y1="452" x2="408.5" y2="466"/>
<line x1="413" y1="462.5" x2="424" y2="462.5"/>
<line x1="418.5" y1="455" x2="418.5" y2="469"/>
<line x1="423" y1="479.5" x2="434" y2="479.5"/>
<line x1="428.5" y1="472" x2="428.5" y2="487"/>
<line x1="433" y1="457.5" x2="445" y2="457.5"/>
<line x1="438.5" y1="449" x2="438.5" y2="465"/>
<line x1="444" y1="448.5" x2="455" y2="448.5"/>
<line x1="449.5" y1="441" x2="449.5" y2="457"/>
<line x1="454" y1="463.5" x2="465" y2="463.5"/>
<line x1="459.5" y1="455" x2="459.5" y2="472"/>
<line x1="464" y1="448.5" x2="475" y2="448.5"/>
<line x1="469.5" y1="441" x2="469.5" y2="458"/>
<line x1="474" y1="443.5" x2="485" y2="443.5"/>
<line x1="479.5" y1="434" x2="479.5" y2="452"/>
<line x1="484" y1="446.5" x2="496" y2="446.5"/>
<line x1="489.5" y1="437" x2="489.5" y2="455"/>
<line x1="495" y1="447.5" x2="506" y2="447.5"/>
<line x1="500.5" y1="438" x2="500.5" y2="457"/>
<line x1="505" y1="436.5" x2="516" y2="436.5"/>
<line x1="510.5" y1="427" x2="510.5" y2="446"/>
<line x1="515" y1="440.5" x2="526" y2="440.5"/>
<line x1="520.5" y1="430" x2="520.5" y2="450"/>
<line x1="525" y1="453.5" x2="536" y2="453.5"/>
<line x1="530.5" y1="443" x2="530.5" y2="463"/>
<line x1="535" y1="446.5" x2="547" y2="446.5"/>
<line x1="541.5" y1="436" x2="541.5" y2="457"/>
<line x1="546" y1="429.5" x2="557" y2="429.5"/>
<line x1="551.5" y1="419" x2="551.5" y2="441"/>
<line x1="556" y1="435.5" x2="567" y2="435.5"/>
<line x1="561.5" y1="424" x2="561.5" y2="446"/>
<line x1="566" y1="424.5" x2="577" y2="424.5"/>
<line x1="571.5" y1="413" x2="571.5" y2="436"/>
<line x1="576" y1="419.5" x2="587" y2="419.5"/>
<line x1="581.5" y1="408" x2="581.5" y2="431"/>
<line x1="586" y1="420.5" x2="598" y2="420.5"/>
<line x1="592.5" y1="409" x2="592.5" y2="433"/>
<line x1="597" y1="437.5" x2="608" y2="437.5"/>
<line x1="602.5" y1="425" x2="602.5" y2="450"/>
<line x1="607" y1="428.5" x2="618" y2="428.5"/>
<line x1="612.5" y1="416" x2="612.5" y2="442"/>
<line x1="617" y1="438.5" x2="628" y2="438.5"/>
<line x1="622.5" y1="425" x2="622.5" y2="452"/>
<line x1="627" y1="454.5" x2="639" y2="454.5"/>
<line x1="632.5" y1="441" x2="632.5" y2="468"/>
<line x1="638" y1="443.5" x2="649" y2="443.5"/>
<line x1="643.5" y1="429" x2="643.5" y2="457"/>
<line x1="648" y1="436.5" x2="659" y2="436.5"/>
<line x1="653.5" y1="422" x2="653.5" y2="451"/>
<line x1="658" y1="434.5" x2="669" y2="434.5"/>
<line x1="663.5" y1="420" x2="663.5" y2="449"/>
<line x1="668" y1="456.5" x2="679" y2="456.5"/>
<line x1="673.5" y1="441" x2="673.5" y2="472"/>
<line x1="678" y1="466.5" x2="690" y2="466.5"/>
<line x1="683.5" y1="451" x2="683.5" y2="482"/>
<line x1="689" y1="441.5" x2="700" y2="441.5"/>
<line x1="694.5" y1="426" x2="694.5" y2="457"/>
<line x1="699" y1="475.5" x2="710" y2="475.5"/>
<line x1="704.5" y1="460" x2="704.5" y2="492"/>
<line x1="709" y1="471.5" x2="720" y2="471.5"/>
<line x1="714.5" y1="455" x2="714.5" y2="488"/>
<line x1="719" y1="483.5" x2="730" y2="483.5"/>
<line x1="724.5" y1="467" x2="724.5" y2="499"/>
<line x1="729" y1="479.5" x2="741" y2="479.5"/>
<line x1="734.5" y1="463" x2="734.5" y2="496"/>
<line x1="740" y1="432.5" x2="751" y2="432.5"/>
<line x1="745.5" y1="415" x2="745.5" y2="449"/>
<line x1="750" y1="452.5" x2="761" y2="452.5"/>
<line x1="755.5" y1="435" x2="755.5" y2="470"/>
<line x1="760" y1="451.5" x2="771" y2="451.5"/>
<line x1="765.5" y1="434" x2="765.5" y2="469"/>
<line x1="770" y1="446.5" x2="781" y2="446.5"/>
<line x1="775.5" y1="429" x2="775.5" y2="465"/>
<line x1="780" y1="451.5" x2="792" y2="451.5"/>
<line x1="786.5" y1="434" x2="786.5" y2="470"/>
<line x1="791" y1="480.5" x2="802" y2="480.5"/>
<line x1="796.5" y1="462" x2="796.5" y2="500"/>
<line x1="801" y1="447.5" x2="812" y2="447.5"/>
<line x1="806.5" y1="428" x2="806.5" y2="467"/>
<line x1="811" y1="467.5" x2="822" y2="467.5"/>
<line x1="816.5" y1="447" x2="816.5" y2="487"/>
<line x1="821" y1="461.5" x2="832" y2="461.5"/>
<line x1="826.5" y1="441" x2="826.5" y2="482"/>
<line x1="831" y1="408.5" x2="843" y2="408.5"/>
<line x1="837.5" y1="390" x2="837.5" y2="427"/>
<line x1="842" y1="417.5" x2="853" y2="417.5"/>
<line x1="847.5" y1="397" x2="847.5" y2="438"/>
<line x1="852" y1="469.5" x2="863" y2="469.5"/>
<line x1="857.5" y1="449" x2="857.5" y2="491"/>
<line x1="862" y1="453.5" x2="873" y2="453.5"/>
<line x1="867.5" y1="432" x2="867.5" y2="475"/>
<line x1="872" y1="434.5" x2="883" y2="434.5"/>
<line x1="877.5" y1="413" x2="877.5" y2="456"/>
<line x1="882" y1="424.5" x2="894" y2="424.5"/>
<line x1="888.5" y1="402" x2="888.5" y2="447"/>
<line x1="893" y1="454.5" x2="904" y2="454.5"/>
<line x1="898.5" y1="432" x2="898.5" y2="476"/>
<line x1="903" y1="438.5" x2="914" y2="438.5"/>
<line x1="908.5" y1="416" x2="908.5" y2="462"/>
<line x1="913" y1="481.5" x2="924" y2="481.5"/>
<line x1="918.5" y1="459" x2="918.5" y2="504"/>
<line x1="923" y1="495.5" x2="935" y2="495.5"/>
<line x1="928.5" y1="473" x2="928.5" y2="518"/>
<line x1="934" y1="424.5" x2="945" y2="424.5"/>
<line x1="939.5" y1="400" x2="939.5" y2="448"/>
<line x1="944" y1="432.5" x2="955" y2="432.5"/>
<line x1="949.5" y1="409" x2="949.5" y2="457"/>
<line x1="954" y1="421.5" x2="965" y2="421.5"/>
<line x1="959.5" y1="398" x2="959.5" y2="446"/>
<line x1="964" y1="439.5" x2="975" y2="439.5"/>
<line x1="969.5" y1="414" x2="969.5" y2="465"/>
<line x1="974" y1="452.5" x2="986" y2="452.5"/>
<line x1="979.5" y1="426" x2="979.5" y2="479"/>
<line x1="985" y1="454.5" x2="996" y2="454.5"/>
<line x1="990.5" y1="429" x2="990.5" y2="479"/>
<line x1="995" y1="464.5" x2="1006" y2="464.5"/>
<line x1="1000.5" y1="439" x2="1000.5" y2="491"/>
<line x1="1005" y1="401.5" x2="1016" y2="401.5"/>
<line x1="1010.5" y1="376" x2="1010.5" y2="428"/>
<line x1="1015" y1="423.5" x2="1026" y2="423.5"/>
<line x1="1020.5" y1="397" x2="1020.5" y2="451"/>
<line x1="1025" y1="452.5" x2="1037" y2="452.5"/>
<line x1="1031.5" y1="426" x2="1031.5" y2="479"/>
<line x1="1036" y1="427.5" x2="1047" y2="427.5"/>
<line x1="1041.5" y1="399" x2="1041.5" y2="456"/>
<line x1="1046" y1="383.5" x2="1057" y2="383.5"/>
<line x1="1051.5" y1="357" x2="1051.5" y2="409"/>
<line x1="1056" y1="443.5" x2="1067" y2="443.5"/>
<line x1="1061.5" y1="416" x2="1061.5" y2="471"/>
<line x1="1066" y1="388.5" x2="1077" y2="388.5"/>
<line x1="1071.5" y1="361" x2="1071.5" y2="417"/>
<line x1="1076" y1="438.5" x2="1088" y2="438.5"/>
<line x1="1082.5" y1="409" x2="1082.5" y2="467"/>
<line x1="1087" y1="468.5" x2="1098" y2="468.5"/>
<line x1="1092.5" y1="438" x2="1092.5" y2="498"/>
<line x1="1097" y1="434.5" x2="1108" y2="434.5"/>
<line x1="1102.5" y1="405" x2="1102.5" y2="464"/>
<line x1="1107" y1="449.5" x2="1118" y2="449.5"/>
<line x1="1112.5" y1="420" x2="1112.5" y2="479"/>
<line x1="1117" y1="427.5" x2="1128" y2="427.5"/>
<line x1="1122.5" y1="397" x2="1122.5" y2="458"/>
<line x1="1127" y1="416.5" x2="1139" y2="416.5"/>
<line x1="1133.5" y1="384" x2="1133.5" y2="448"/>
<line x1="1138" y1="365.5" x2="1149" y2="365.5"/>
<line x1="1143.5" y1="335" x2="1143.5" y2="395"/>
</g>
<g fill="#ff0000" stroke="none">
<path d="M129.4 281.0L135.6 281.0L132.5 274.7Z"/>
<path d="M139.4 639.0L145.6 639.0L142.5 632.7Z"/>
<path d="M150.4 536.0L156.6 536.0L153.5 529.7Z"/>
<path d="M160.4 615.0L166.6 615.0L163.5 608.7Z"/>
<path d="M170.4 587.0L176.6 587.0L173.5 580.7Z"/>
<path d="M180.4 586.0L186.6 586.0L183.5 579.7Z"/>
<path d="M190.4 596.0L196.6 596.0L193.5 589.7Z"/>
<path d="M201.4 604.0L207.6 604.0L204.5 597.7Z"/>
<path d="M211.4 600.0L217.6 600.0L214.5 593.7Z"/>
<path d="M221.4 598.0L227.6 598.0L224.5 591.7Z"/>
<path d="M231.4 589.0L237.6 589.0L234.5 582.7Z"/>
<path d="M241.4 582.0L247.6 582.0L244.5 575.7Z"/>
<path d="M252.4 575.0L258.6 575.0L255.5 568.7Z"/>
<path d="M262.4 564.0L268.6 564.0L265.5 557.7Z"/>
<path d="M272.4 555.0L278.6 555.0L275.5 548.7Z"/>
<path d="M282.4 547.0L288.6 547.0L285.5 540.7Z"/>
<path d="M293.4 525.0L299.6 525.0L296.5 518.7Z"/>
<path d="M303.4 523.0L309.6 523.0L306.5 516.7Z"/>
<path d="M313.4 518.0L319.6 518.0L316.5 511.7Z"/>
<path d="M323.4 517.0L329.6 517.0L326.5 510.7Z"/>
<path d="M333.4 515.0L339.6 515.0L336.5 508.7Z"/>
<path d="M344.4 503.0L350.6 503.0L347.5 496.7Z"/>
<path d="M354.4 497.0L360.6 497.0L357.5 490.7Z"/>
<path d="M364.4 495.0L370.6 495.0L367.5 488.7Z"/>
<path d="M374.4 493.0L380.6 493.0L377.5 486.7Z"/>
<path d="M384.4 478.0L390.6 478.0L387.5 471.7Z"/>
<path d="M395.4 483.0L401.6 483.0L398.5 476.7Z"/>
<path d="M405.4 462.0L411.6 462.0L408.5 455.7Z"/>
<path d="M415.4 465.0L421.6 465.0L418.5 458.7Z"/>
<path d="M425.4 482.0L431.6 482.0L428.5 475.7Z"/>
<path d="M435.4 460.0L441.6 460.0L438.5 453.7Z"/>
<path d="M446.4 451.0L452.6 451.0L449.5 444.7Z"/>
<path d="M456.4 466.0L462.6 466.0L459.5 459.7Z"/>
<path d="M466.4 451.0L472.6 451.0L469.5 444.7Z"/>
<path d="M476.4 446.0L482.6 446.0L479.5 439.7Z"/>
<path d="M486.4 449.0L492.6 449.0L489.5 442.7Z"/>
<path d="M497.4 450.0L503.6 450.0L500.5 443.7Z"/>
<path d="M507.4 439.0L513.6 439.0L510.5 432.7Z"/>
<path d="M517.4 443.0L523.6 443.0L520.5 436.7Z"/>
<path d="M527.4 456.0L533.6 456.0L530.5 449.7Z"/>
<path d="M538.4 449.0L544.6 449.0L541.5 442.7Z"/>
<path d="M548.4 432.0L554.6 432.0L551.5 425.7Z"/>
<path d="M558.4 438.0L564.6 438.0L561.5 431.7Z"/>
<path d="M568.4 427.0L574.6 427.0L571.5 420.7Z"/>
<path d="M578.4 422.0L584.6 422.0L581.5 415.7Z"/>
<path d="M589.4 423.0L595.6 423.0L592.5 416.7Z"/>
<path d="M599.4 440.0L605.6 440.0L602.5 433.7Z"/>
<path d="M609.4 431.0L615.6 431.0L612.5 424.7Z"/>
<path d="M619.4 441.0L625.6 441.0L622.5 434.7Z"/>
<path d="M629.4 457.0L635.6 457.0L632.5 450.7Z"/>
<path d="M640.4 446.0L646.6 446.0L643.5 439.7Z"/>
<path d="M650.4 439.0L656.6 439.0L653.5 432.7Z"/>
<path d="M660.4 437.0L666.6 437.0L663.5 430.7Z"/>
<path d="M670.4 459.0L676.6 459.0L673.5 452.7Z"/>
<path d="M680.4 469.0L686.6 469.0L683.5 462.7Z"/>
<path d="M691.4 444.0L697.6 444.0L694.5 437.7Z"/>
<path d="M701.4 478.0L707.6 478.0L704.5 471.7Z"/>
<path d="M711.4 474.0L717.6 474.0L714.5 467.7Z"/>
<path d="M721.4 486.0L727.6 486.0L724.5 479.7Z"/>
<path d="M731.4 482.0L737.6 482.0L734.5 475.7Z"/>
<path d="M742.4 435.0L748.6 435.0L745.5 428.7Z"/>
<path d="M752.4 455.0L758.6 455.0L755.5 448.7Z"/>
<path d="M762.4 454.0L768.6 454.0L765.5 447.7Z"/>
<path d="M772.4 449.0L778.6 449.0L775.5 442.7Z"/>
<path d="M783.4 454.0L789.6 454.0L786.5 447.7Z"/>
<path d="M793.4 483.0L799.6 483.0L796.5 476.7Z"/>
<path d="M803.4 450.0L809.6 450.0L806.5 443.7Z"/>
<path d="M813.4 470.0L819.6 470.0L816.5 463.7Z"/>
<path d="M823.4 464.0L829.6 464.0L826.5 457.7Z"/>
<path d="M834.4 411.0L840.6 411.0L837.5 404.7Z"/>
<path d="M844.4 420.0L850.6 420.0L847.5 413.7Z"/>
<path d="M854.4 472.0L860.6 472.0L857.5 465.7Z"/>
<path d="M864.4 456.0L870.6 456.0L867.5 449.7Z"/>
<path d="M874.4 437.0L880.6 437.0L877.5 430.7Z"/>
<path d="M885.4 427.0L891.6 427.0L888.5 420.7Z"/>
<path d="M895.4 457.0L901.6 457.0L898.5 450.7Z"/>
<path d="M905.4 441.0L911.6 441.0L908.5 434.7Z"/>
<path d="M915.4 484.0L921.6 484.0L918.5 477.7Z"/>
<path d="M925.4 498.0L931.6 498.0L928.5 491.7Z"/>
<path d="M936.4 427.0L942.6 427.0L939.5 420.7Z"/>
<path d="M946.4 435.0L952.6 435.0L949.5 428.7Z"/>
<path d="M956.4 424.0L962.6 424.0L959.5 417.7Z"/>
<path d="M966.4 442.0L972.6 442.0L969.5 435.7Z"/>
<path d="M976.4 455.0L982.6 455.0L979.5 448.7Z"/>
<path d="M987.4 457.0L993.6 457.0L990.5 450.7Z"/>
<path d="M997.4 467.0L1003.6 467.0L1000.5 460.7Z"/>
<path d="M1007.4 404.0L1013.6 404.0L1010.5 397.7Z"/>
<path d="M1017.4 426.0L1023.6 426.0L1020.5 419.7Z"/>
<path d="M1028.4 455.0L1034.6 455.0L1031.5 448.7Z"/>
<path d="M1038.4 430.0L1044.6 430.0L1041.5 423.7Z"/>
<path d="M1048.4 386.0L1054.6 386.0L1051.5 379.7Z"/>
<path d="M1058.4 446.0L1064.6 446.0L1061.5 439.7Z"/>
<path d="M1068.4 391.0L1074.6 391.0L1071.5 384.7Z"/>
<path d="M1079.4 441.0L1085.6 441.0L1082.5 434.7Z"/>
<path d="M1089.4 471.0L1095.6 471.0L1092.5 464.7Z"/>
<path d="M1099.4 437.0L1105.6 437.0L1102.5 430.7Z"/>
<path d="M1109.4 452.0L1115.6 452.0L1112.5 445.7Z"/>
<path d="M1119.4 430.0L1125.6 430.0L1122.5 423.7Z"/>
<path d="M1130.4 419.0L1136.6 419.0L1133.5 412.7Z"/>
<path d="M1140.4 368.0L1146.6 368.0L1143.5 361.7Z"/>
</g>
<g shape-rendering="crispEdges">
<rect x="1026" y="105" width="126" height="47" fill="#000"/>
<rect x="1020.5" y="99.5" width="128" height="50" fill="#f0f0f0" stroke="#000" stroke-width="1"/>
</g>
<circle cx="1027.6" cy="112.6" r="3.6" fill="#0000ff"/>
<path d="M1024.1 139L1030.3 139L1027.2 133Z" fill="#ff0000"/>
<text transform="translate(1032.90,117.00) scale(0.9580,1.0000)" font-size="20.30" text-anchor="start">True Pion</text>
<text transform="translate(1032.90,142.00) scale(0.9450,1.0000)" font-size="20.30" text-anchor="start">Fake Pion</text>
</svg></body></html>
